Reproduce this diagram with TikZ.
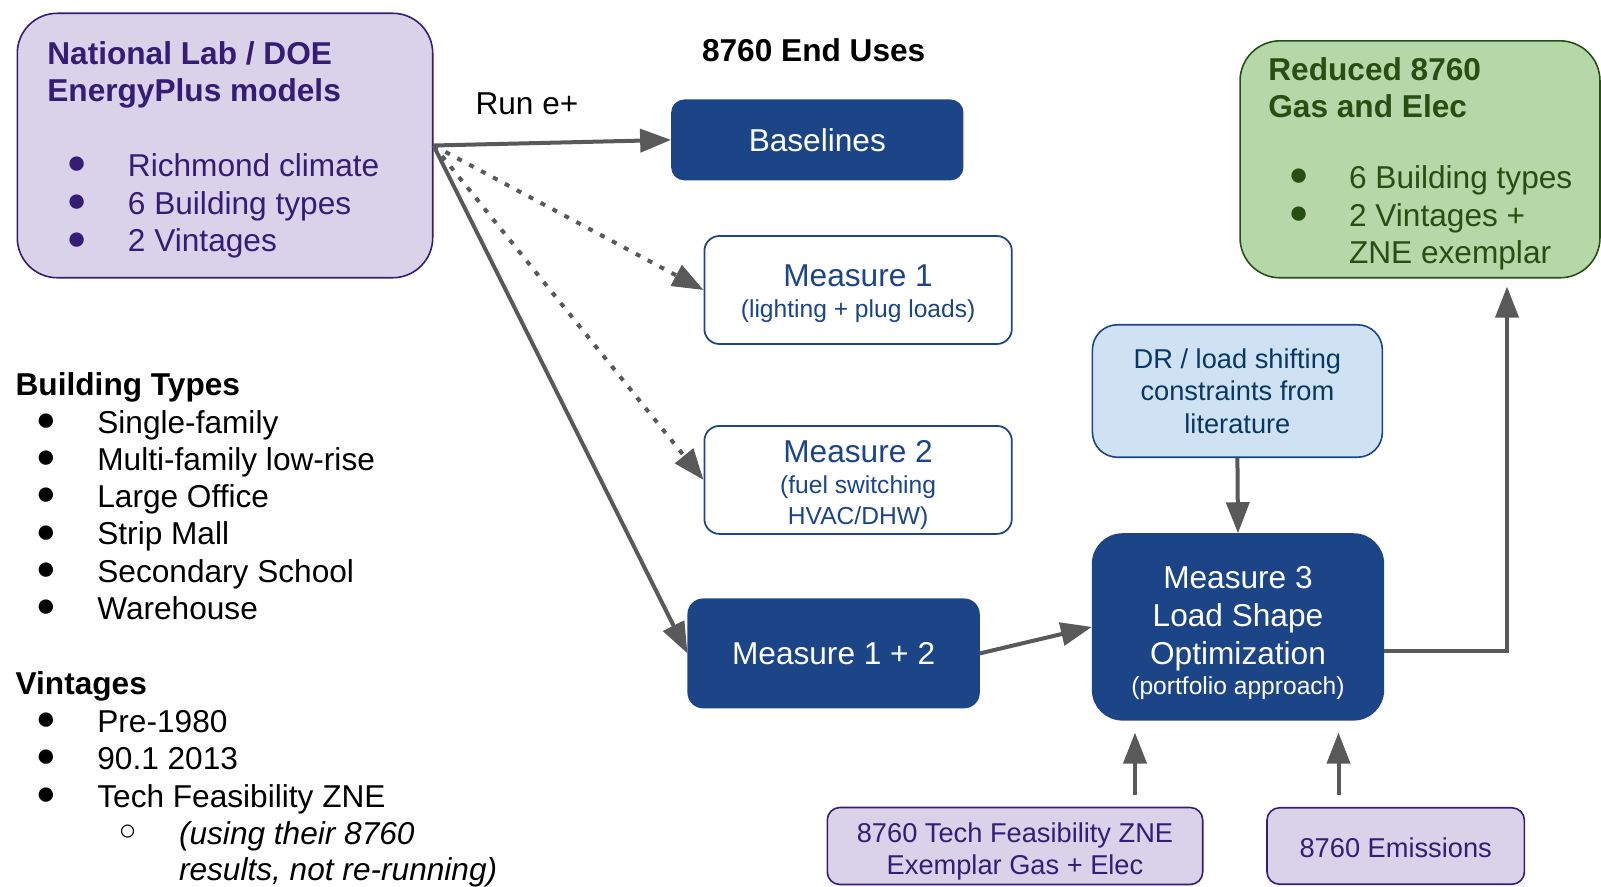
\documentclass[tikz,border=0pt]{standalone}
\usepackage{fontspec}
\setmainfont{Liberation Sans}
\usetikzlibrary{positioning, shapes, arrows.meta, calc}

\definecolor{DeepBlue}{HTML}{1C4587}
\definecolor{LabPurple}{HTML}{D9D2E9}
\definecolor{LabInk}{HTML}{351C75}
\definecolor{LeafGreen}{HTML}{B6D7A8}
\definecolor{LeafInk}{HTML}{274E13}
\definecolor{SkyBlue}{HTML}{CFE2F3}
\definecolor{SkyInk}{HTML}{073763}
\definecolor{ArrowGray}{HTML}{595959}

\tikzset{
  big/.style={font=\fontsize{18}{21.5}\selectfont},
  bigbold/.style={font=\fontsize{18}{21.5}\selectfont\bfseries},
  mid/.style={font=\fontsize{15.5}{18.5}\selectfont},
  dot/.style={font=\fontsize{19}{19}\selectfont, inner sep=0pt, anchor=center},
  listtxt/.style={anchor=base west, inner sep=0pt},
  solidbox/.style={draw=DeepBlue, fill=DeepBlue, text=white, line width=0.8pt, inner sep=0pt, align=center},
  openbox/.style={draw=DeepBlue, fill=white, text=DeepBlue, line width=1pt, inner sep=0pt, align=center},
  labbox/.style={draw=LabInk, fill=LabPurple, text=LabInk, line width=0.9pt, inner sep=0pt, align=center},
  flow/.style={draw=ArrowGray, line width=0.08cm, -{Triangle[length=0.62cm, width=0.46cm]}},
  dotflow/.style={flow, dash pattern=on 0.1cm off 0.17cm},
}

\begin{document}
\begin{tikzpicture}[x=0.02cm, y=-0.02cm]
\useasboundingbox (0,0) rectangle (1601,886);

% Source models
\node[labbox, rounded corners=0.8cm, minimum width=8.31cm, minimum height=5.29cm] (natlab) at (225,145.5) {};
\node[listtxt, bigbold, text=LabInk] (natlab title) at (47,64) {National Lab / DOE};
\node[listtxt, bigbold, text=LabInk] (natlab sub) at (47,101) {EnergyPlus models};
\foreach \txt [count=\i] in {Richmond climate, 6 Building types, 2 Vintages} {
    \node[listtxt, big, text=LabInk] (natlab item \i) at (127.6,138.5+37.8*\i) {\txt};
    \node[dot, text=LabInk] (natlab dot \i) at (76.6,127.5+37.8*\i) {●};
}

% Headings
\node[big] (runlbl) at (527,104) {Run e+};
\node[bigbold] (enduses) at (813.7,50) {8760 End Uses};

% Measures
\node[solidbox, big, rounded corners=0.25cm, minimum width=5.82cm, minimum height=1.59cm] (base) at (817.3,139.9) {Baselines};
\node[openbox, font=\fontsize{14}{17.5}\selectfont, rounded corners=0.3cm, minimum width=6.15cm, minimum height=2.16cm] (m1) at (858.1,290)
    {\rule{0pt}{16.5pt}{\fontsize{18}{21.5}\selectfont Measure 1}\\(lighting + plug loads)};
\node[openbox, font=\fontsize{14}{17.4}\selectfont, rounded corners=0.3cm, minimum width=6.15cm, minimum height=2.16cm] (m2) at (858.1,479.9)
    {\rule{0pt}{18pt}{\fontsize{18}{21.5}\selectfont Measure 2}\\[0.5pt](fuel switching\\HVAC/DHW)};
\node[solidbox, big, rounded corners=0.3cm, minimum width=5.82cm, minimum height=2.17cm] (m12) at (833.6,653.4) {Measure 1 + 2};
\node[solidbox, big, rounded corners=0.6cm, minimum width=5.82cm, minimum height=3.72cm] (m3) at (1238,626.9)
    {\rule{0pt}{19.5pt}Measure 3\\Load Shape\\Optimization\\[-4.6pt]{\fontsize{14}{17}\selectfont (portfolio approach)}};
\node[draw=DeepBlue, fill=SkyBlue, text=SkyInk, line width=0.9pt, inner sep=0pt, align=center, mid, rounded corners=0.5cm, minimum width=5.8cm, minimum height=2.65cm] (dr) at (1237.4,391)
    {DR / load shifting\\constraints from\\literature};

% Extra inputs
\node[labbox, mid, rounded corners=0.25cm, minimum width=7.51cm, minimum height=1.54cm] (tech) at (1015,846)
    {\rule{0pt}{17.5pt}8760 Tech Feasibility ZNE\\Exemplar Gas + Elec};
\node[labbox, mid, rounded corners=0.25cm, minimum width=5.15cm, minimum height=1.53cm] (emis) at (1395.7,846) {\rule{0pt}{13pt}8760 Emissions};

% Result
\node[draw=LeafInk, fill=LeafGreen, line width=0.9pt, rounded corners=0.8cm, minimum width=7.2cm, minimum height=4.74cm] (reduced) at (1420,159.3) {};
\node[listtxt, bigbold, text=LeafInk] (reduced title) at (1268,80.5) {Reduced 8760};
\node[listtxt, bigbold, text=LeafInk] (reduced sub) at (1268,117.5) {Gas and Elec};
\node[listtxt, big, text=LeafInk] (reduced item 1) at (1348.7,188.5) {6 Building types};
\node[listtxt, big, text=LeafInk] (reduced item 2) at (1348.7,226) {2 Vintages +};
\node[listtxt, big, text=LeafInk] (reduced item 3) at (1348.7,263) {ZNE exemplar};
\node[dot, text=LeafInk] (reduced dot 1) at (1298.7,177.5) {●};
\node[dot, text=LeafInk] (reduced dot 2) at (1298.7,215) {●};

% Left hand lists
\node[listtxt, bigbold] (bt head) at (15.3,395) {Building Types};
\foreach \txt [count=\i] in {Single-family, Multi-family low-rise, Large Office, Strip Mall, Secondary School, Warehouse} {
    \node[listtxt, big] (bt item \i) at (97,395.7+37.3*\i) {\txt};
    \node[dot] (bt dot \i) at (46,384.7+37.3*\i) {●};
}
\node[listtxt, bigbold] (vin head) at (15.3,694) {Vintages};
\foreach \txt [count=\i] in {Pre-1980, 90.1 2013, Tech Feasibility ZNE} {
    \node[listtxt, big] (vin item \i) at (97,694.5+37.5*\i) {\txt};
    \node[dot] (vin dot \i) at (46,683.5+37.5*\i) {●};
}
\node[dot, font=\fontsize{17}{17}\selectfont] (vin sub dot) at (127.6,833) {○};
\node[listtxt, big, font=\fontsize{18}{21.5}\selectfont\itshape] (vin sub 1) at (178.7,844) {(using their 8760};
\node[listtxt, big, font=\fontsize{18}{21.5}\selectfont\itshape] (vin sub 2) at (178.7,880) {results, not re-running)};

% Connectors
\draw[flow] (natlab.east) -- (base.west);
\draw[dotflow] (natlab.east) -- (m1.west);
\draw[dotflow] (natlab.east) -- (m2.west);
\draw[flow] (natlab.east) -- (m12.west);
\draw[flow] (m12.east) -- (m3.west);
\draw[flow] (dr.south) -- (m3.north);
\coordinate (bend) at (1507,651);
\draw[flow, shorten >=0.16cm] (m3.east |- bend) -- (bend) -- (reduced.south -| bend);
\coordinate (techup) at (1135,0);
\coordinate (emisup) at (1338.5,0);
\draw[flow, shorten <=0.23cm, shorten >=0.24cm] (tech.north -| techup) -- (m3.south -| techup);
\draw[flow, shorten <=0.23cm, shorten >=0.24cm] (emis.north -| emisup) -- (m3.south -| emisup);
\end{tikzpicture}
\end{document}
